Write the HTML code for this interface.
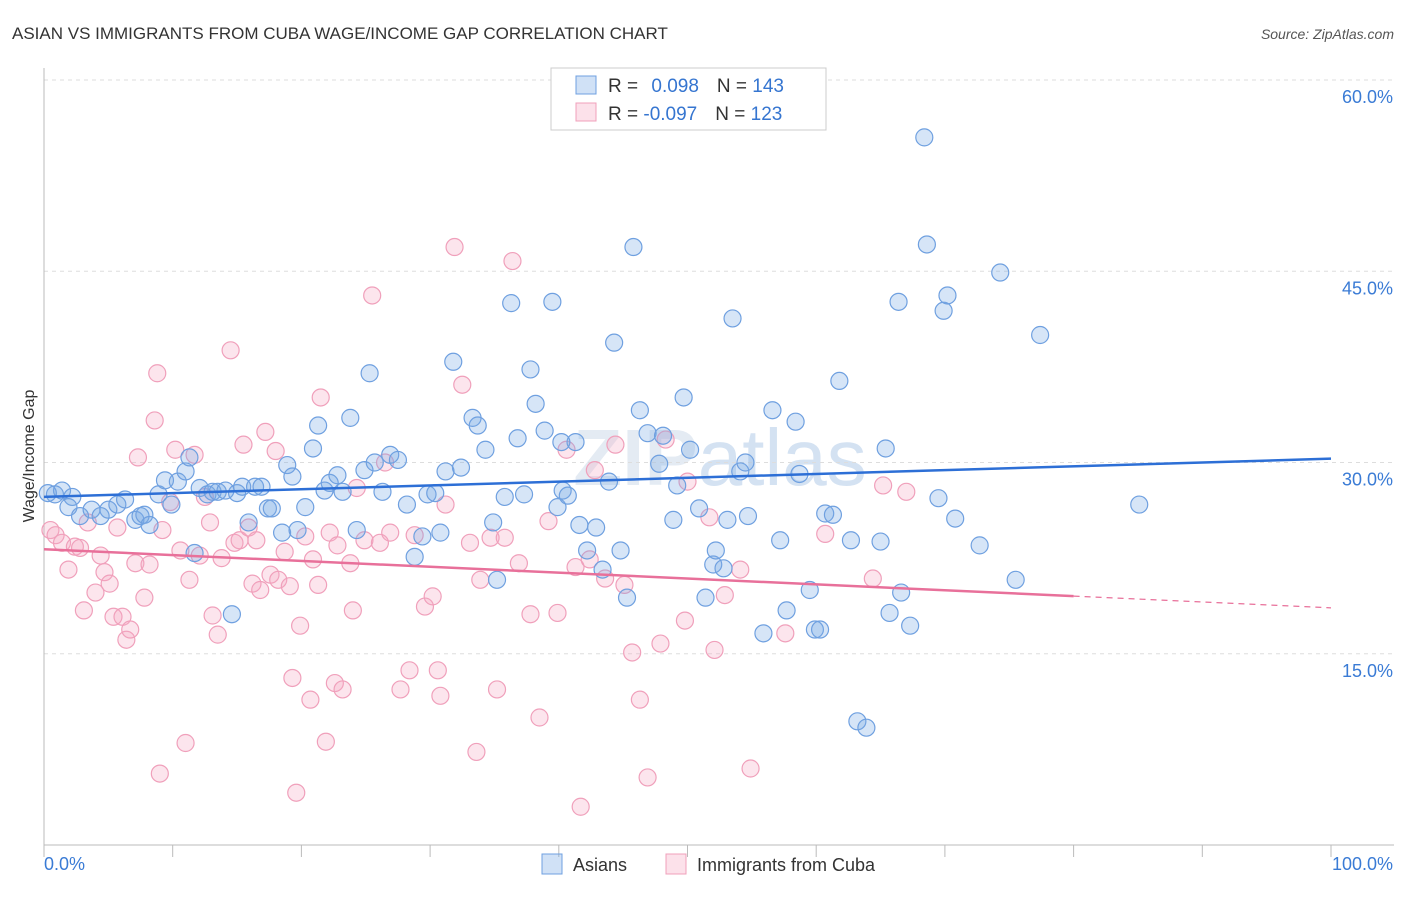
<!DOCTYPE html>
<html><head><meta charset="utf-8"><style>
body{margin:0;background:#fff;font-family:"Liberation Sans",sans-serif;}
svg text{font-family:"Liberation Sans",sans-serif;}
</style></head><body>
<svg id="chart" width="1406" height="892" xmlns="http://www.w3.org/2000/svg">
<text x="12" y="39" font-size="17" fill="#333">ASIAN VS IMMIGRANTS FROM CUBA WAGE/INCOME GAP CORRELATION CHART</text>
<text x="1394" y="39" font-size="14" fill="#555" text-anchor="end" font-style="italic">Source: ZipAtlas.com</text>
<text x="720" y="485" font-size="80" fill="#e4ebf3" text-anchor="middle" font-weight="bold" font-family="Liberation Serif">ZIP<tspan font-weight="normal" font-family="Liberation Sans" fill="#d4e2f2">atlas</tspan></text>
<g id="grid"></g>
<g id="axes"></g>
<g id="pts"></g>
<g id="trend"></g>
<text transform="translate(34,456) rotate(-90)" font-size="16" fill="#333" text-anchor="middle">Wage/Income Gap</text>
<g>
<rect x="551" y="68" width="275" height="62" fill="#fff" stroke="#ccc"/>
<rect x="576" y="76" width="20" height="18" fill="rgba(120,170,230,0.35)" stroke="#6fa0e0"/>
<rect x="576" y="103" width="20" height="18" fill="rgba(245,170,195,0.35)" stroke="#f0a0bb"/>
<text x="608" y="92" font-size="19" fill="#333">R = <tspan fill="#3575d0" dx="8">0.098</tspan><tspan dx="18">N = </tspan><tspan fill="#3575d0">143</tspan></text>
<text x="608" y="120" font-size="19" fill="#333">R = <tspan fill="#3575d0">-0.097</tspan><tspan dx="18">N = </tspan><tspan fill="#3575d0">123</tspan></text>
</g>
<g>
<rect x="542" y="854" width="20" height="20" fill="rgba(120,170,230,0.35)" stroke="#6fa0e0"/>
<text x="573" y="871" font-size="18" fill="#333">Asians</text>
<rect x="666" y="854" width="20" height="20" fill="rgba(245,170,195,0.35)" stroke="#f0a0bb"/>
<text x="697" y="871" font-size="18" fill="#333">Immigrants from Cuba</text>
</g>
</svg>
<script>
const yTicks=[15,30,45,60];
const xTickLabels=["0.0%","100.0%"];
const asianX=[0.85,1.4,2.2,0.3,1.9,2.8,3.7,4.4,5.0,5.7,6.3,7.1,7.5,7.8,8.2,8.9,9.4,9.9,10.4,11.0,11.3,11.7,12.1,12.7,13.1,13.5,14.1,14.6,15.0,15.4,15.9,16.4,16.9,17.4,17.7,18.5,18.9,19.3,19.7,20.3,20.9,21.3,21.8,22.2,22.8,23.2,23.8,24.3,24.9,25.3,25.7,26.3,26.9,27.5,28.2,28.8,29.4,29.8,30.4,30.8,31.2,31.8,32.4,33.3,33.7,34.3,34.9,35.2,35.8,36.3,36.8,37.3,37.8,38.2,38.9,39.5,39.9,40.3,40.7,41.3,41.6,42.2,42.9,43.4,43.9,44.3,44.8,45.3,45.8,46.3,46.9,47.8,48.1,48.9,49.2,49.7,50.2,50.9,51.4,52.0,52.2,52.8,53.5,54.1,54.5,54.7,55.9,56.6,57.2,57.7,58.4,58.7,59.5,59.9,60.3,60.7,61.3,61.8,62.7,63.2,63.9,65.0,65.4,65.7,66.4,66.6,67.3,68.4,68.6,69.5,69.9,70.2,70.8,72.7,74.3,75.5,77.4,85.1,53.1,40.2];
const asianY=[27.5,27.8,27.3,27.6,26.5,25.8,26.3,25.8,26.3,26.7,27.1,25.5,25.8,25.9,25.1,27.5,28.6,26.7,28.5,29.3,30.4,22.9,28.0,27.5,27.7,27.7,27.8,18.1,27.6,28.1,25.3,28.1,28.1,26.4,26.4,24.5,29.8,28.9,24.7,26.5,31.1,32.9,27.8,28.4,29.0,27.7,33.5,24.7,29.4,37.0,30.0,27.7,30.6,30.2,26.7,22.6,24.2,27.5,27.6,24.5,29.3,37.9,29.6,33.5,32.9,31.0,25.3,20.8,27.3,42.5,31.9,27.5,37.3,34.6,32.5,42.6,26.5,27.8,27.4,31.6,25.1,23.1,24.9,21.6,28.5,39.4,23.1,19.4,46.9,34.1,32.3,29.9,32.1,25.5,28.2,35.1,31.0,26.4,19.4,22.0,23.1,21.7,41.3,29.3,30.0,25.8,16.6,34.1,23.9,18.4,33.2,29.1,20.0,16.9,16.9,26.0,25.9,36.4,23.9,9.7,9.2,23.8,31.1,18.2,42.6,19.8,17.2,55.5,47.1,27.2,41.9,43.1,25.6,23.5,44.9,20.8,40.0,26.7,25.5,31.6];
const cubaX=[0.5,0.9,1.4,1.9,2.4,2.8,3.1,3.4,4.0,4.4,4.7,5.1,5.4,5.7,6.1,6.4,6.7,7.1,7.3,7.8,8.2,8.6,8.8,9.0,9.2,9.8,10.2,10.6,11.0,11.3,11.7,12.1,12.5,12.9,13.1,13.5,13.8,14.5,14.8,15.2,15.5,15.9,16.2,16.5,16.8,17.2,17.6,18.0,18.2,18.7,19.1,19.3,19.6,19.9,20.3,20.7,20.9,21.3,21.5,21.9,22.2,22.6,22.8,23.2,23.8,24.0,24.3,24.9,25.5,26.1,26.5,26.9,27.7,28.4,28.8,29.6,30.2,30.6,30.8,31.2,31.9,32.5,33.1,33.6,33.9,34.7,35.2,35.8,36.4,36.9,37.8,38.5,39.2,39.9,40.6,41.3,41.7,42.4,42.8,43.6,44.4,45.1,45.7,46.3,46.9,47.9,48.3,49.8,50.0,51.7,52.1,52.9,54.1,54.9,57.6,60.7,64.4,65.2,67.0];
const cubaY=[24.7,24.3,23.7,21.6,23.4,23.3,18.4,25.3,19.8,22.7,21.4,20.5,17.9,24.9,17.9,16.1,16.9,22.1,30.4,19.4,22.0,33.3,37.0,5.6,24.7,26.9,31.0,23.1,8.0,20.8,30.6,22.7,27.3,25.3,18.0,16.5,22.5,38.8,23.7,23.9,31.4,24.9,20.5,23.9,20.0,32.4,21.2,30.9,20.8,23.0,20.3,13.1,4.1,17.2,24.2,11.4,22.4,20.4,35.1,8.1,24.5,12.7,23.5,12.2,22.1,18.4,28.0,23.9,43.1,23.7,30.0,24.5,12.2,13.7,24.3,18.7,19.5,13.7,11.7,26.7,46.9,36.1,23.7,7.3,20.8,24.1,12.2,24.1,45.8,22.1,18.1,10.0,25.4,18.2,31.0,21.8,3.0,22.4,29.4,20.9,31.4,20.4,15.1,11.4,5.3,15.8,31.8,17.6,28.5,25.7,15.3,19.6,21.6,6.0,16.6,24.4,20.9,28.2,27.7];
const asianTrend=[27.3,30.3];
const cubaTrend=[23.2,18.6];
const cubaSolidEnd=80;

const X0=44,X1=1331,Y0=845,PXPER=12.75;
function sx(v){return X0+(X1-X0)*v/100;}
function sy(v){return Y0-v*PXPER;}
const NS="http://www.w3.org/2000/svg";
function mk(tag,attrs,parent){const e=document.createElementNS(NS,tag);for(const k in attrs)e.setAttribute(k,attrs[k]);parent.appendChild(e);return e;}
const grid=document.getElementById('grid'),axes=document.getElementById('axes');
yTicks.forEach(t=>{
  const l=mk('line',{x1:X0,x2:1394,y1:sy(t),y2:sy(t),stroke:'#ddd','stroke-dasharray':'4,4'},grid);
  
  
  const tx=mk('text',{x:1393,y:sy(t)+23,'font-size':18,fill:'#3a7bd5','text-anchor':'end'},axes);
  tx.textContent=t.toFixed(1)+'%';
  
  
});
const ya=mk('line',{x1:X0,x2:X0,y1:68,y2:Y0,stroke:'#bbb'},axes);


const xa=mk('line',{x1:X0,x2:1394,y1:Y0,y2:Y0,stroke:'#bbb'},axes);


for(let i=0;i<=10;i++){
  const t=mk('line',{x1:sx(i*10),x2:sx(i*10),y1:Y0,y2:Y0+12,stroke:'#bbb'},axes);
  
  
}
const xl0=mk('text',{x:44,y:870,'font-size':18,fill:'#3a7bd5'},axes);xl0.textContent=xTickLabels[0];


const xl1=mk('text',{x:1393,y:870,'font-size':18,fill:'#3a7bd5','text-anchor':'end'},axes);xl1.textContent=xTickLabels[1];


const pts=document.getElementById('pts');
cubaX.forEach((x,i)=>{
  const c=mk('circle',{cx:sx(x),cy:sy(cubaY[i]),r:8.5,fill:'rgba(245,170,195,0.3)',stroke:'#f0a0bb','stroke-width':1.2},pts);
  
  
});
asianX.forEach((x,i)=>{
  const c=mk('circle',{cx:sx(x),cy:sy(asianY[i]),r:8.5,fill:'rgba(120,170,230,0.3)',stroke:'#6fa0e0','stroke-width':1.2},pts);
  
  
});
const tr=document.getElementById('trend');
const bl=mk('line',{x1:sx(0),y1:sy(asianTrend[0]),x2:sx(100),y2:sy(asianTrend[1]),stroke:'#2d6fd6','stroke-width':2.5},tr);


const midY=cubaTrend[0]+(cubaTrend[1]-cubaTrend[0])*cubaSolidEnd/100;
const pl=mk('line',{x1:sx(0),y1:sy(cubaTrend[0]),x2:sx(cubaSolidEnd),y2:sy(midY),stroke:'#e8709a','stroke-width':2.5},tr);


const pd=mk('line',{x1:sx(cubaSolidEnd),y1:sy(midY),x2:sx(100),y2:sy(cubaTrend[1]),stroke:'#e8709a','stroke-width':1.2,'stroke-dasharray':'6,5'},tr);


</script>
</body></html>
